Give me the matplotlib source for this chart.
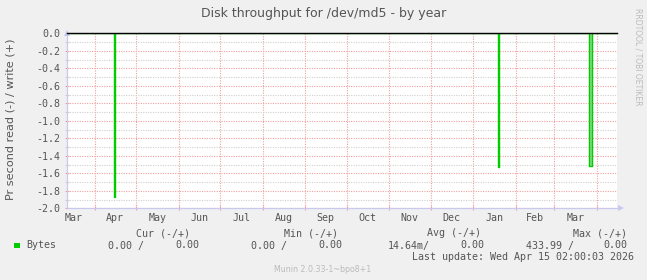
import matplotlib
matplotlib.use("Agg")
import matplotlib.pyplot as plt
import numpy as np
import pandas as pd

# ---- data ----
title = "Disk throughput for /dev/md5 - by year"
ylabel = "Pr second read (-) / write (+)"
range_start = "2025-03-12 00:00"
range_end = "2026-04-15 02:00"
spike_dates = ["2025-04-15", "2026-01-19", "2026-03-26", "2026-03-27"]
spike_read = [1.87, 1.53, 1.52, 1.52]          # read, drawn negative
month_labels = ["Mar", "Apr", "May", "Jun", "Jul", "Aug", "Sep", "Oct",
                "Nov", "Dec", "Jan", "Feb", "Mar"]
ytick_values = [0.0, -0.2, -0.4, -0.6, -0.8, -1.0, -1.2, -1.4, -1.6, -1.8, -2.0]
legend_headers = ["Cur (-/+)", "Min (-/+)", "Avg (-/+)", "Max (-/+)"]
legend_name = "Bytes"
legend_read = ["0.00 /", "0.00 /", "14.64m/", "433.99 /"]
legend_write = ["0.00", "0.00", "0.00", "0.00"]
last_update = "Last update: Wed Apr 15 02:00:03 2026"
footer = "Munin 2.0.33-1~bpo8+1"
side_text = "RRDTOOL / TOBI OETIKER"

# build daily series from the spike arrays
days = pd.date_range("2025-03-11", "2026-04-16", freq="D")
read = pd.Series(0.0, index=days)
for d, v in zip(spike_dates, spike_read):
    read[pd.Timestamp(d)] = -v

W, H = 647, 280
fig = plt.figure(figsize=(W / 100, H / 100), dpi=100, facecolor="#F0F0F0")
ax = fig.add_axes([67 / W, 1 - 208.3 / H, (616.5 - 67) / W, (208.3 - 33.3) / H])
ax.set_facecolor("white")

MONO = "DejaVu Sans Mono"
txtc = "#555555"
FS = 7.2

ax.set_xlim(pd.Timestamp(range_start), pd.Timestamp(range_end))
ax.set_ylim(-2.0, 0.0)

# month grid (major ticks at month starts), labels at mid-month (minor)
month_starts = pd.date_range("2025-03-01", "2026-05-01", freq="MS")
mids = [month_starts[i] + (month_starts[i + 1] - month_starts[i]) / 2
        for i in range(len(month_labels))]
ax.set_xticks(month_starts[1:-1])
ax.set_xticklabels([])
ax.set_xticks(mids, minor=True)
ax.set_xticklabels(month_labels, minor=True, fontfamily=MONO, fontsize=FS, color=txtc)
ax.tick_params(axis="x", which="minor", length=0, pad=3.5)
ax.tick_params(axis="x", which="major", length=3, direction="inout", color="#F0A0A0", width=0.8)
ax.set_xlim(pd.Timestamp(range_start), pd.Timestamp(range_end))

ax.set_yticks(ytick_values)
ax.set_yticklabels([f"{v:.1f}" for v in ytick_values], fontfamily=MONO, fontsize=FS, color=txtc)
ax.set_yticks(np.arange(-1.9, 0.0, 0.2), minor=True)
ax.tick_params(axis="y", which="major", length=3, direction="inout", color="#F0A0A0", width=0.8, pad=3)
ax.tick_params(axis="y", which="minor", length=3, direction="inout", color="#D0D0D0", width=0.8)

ax.grid(True, which="major", axis="both", color="#F0A0A0", linestyle=(0, (1, 1.2)), linewidth=0.8)
ax.grid(True, which="minor", axis="y", color="#D0D0D0", linestyle=(0, (1, 1.2)), linewidth=0.8)
ax.set_axisbelow(True)

for s in ["top", "right"]:
    ax.spines[s].set_visible(False)
for s in ["left", "bottom"]:
    ax.spines[s].set_color("#C8C8F0")
    ax.spines[s].set_linewidth(0.9)

# arrows on axes
ax.plot([0], [1.0], marker="^", markersize=4.5, color="#C8C8F0", transform=ax.transAxes,
        clip_on=False, markeredgewidth=0)
ax.plot([1.009], [0], marker=">", markersize=4.5, color="#C8C8F0", transform=ax.transAxes,
        clip_on=False, markeredgewidth=0)

# data
ax.fill_between(read.index, read.values, 0, step="post", color="#80E080", linewidth=0, zorder=2.5)
ax.plot(read.index, read.values, drawstyle="steps-post", color="#00CC00", linewidth=1.0, zorder=3)
ax.axhline(0, color="black", linewidth=1.0, clip_on=False, zorder=4)

# y label
fig.text(10.5 / W, 1 - 119 / H, ylabel, ha="center", va="center", rotation=90,
         fontsize=8.1, color=txtc)
# title
fig.text(323.5 / W, 1 - 14 / H, title, ha="center", va="center", fontsize=9.0, color=txtc)
# side text
fig.text(638 / W, 1 - 57 / H, side_text, ha="center", va="center", rotation=270,
         fontsize=5.5, color="#BBBBBB")

# legend block
hdr_x = [163.3, 311, 454, 600]
for x, h in zip(hdr_x, legend_headers):
    fig.text(x / W, 1 - 233 / H, h, ha="center", va="center", fontfamily=MONO, fontsize=FS, color=txtc)
fig.patches.append(plt.Rectangle((14 / W, 1 - 248 / H), 6 / W, 5.5 / H, transform=fig.transFigure,
                                 facecolor="#00CC00", edgecolor="none"))
fig.text(26.5 / W, 1 - 245.5 / H, legend_name, ha="left", va="center", fontfamily=MONO, fontsize=FS, color=txtc)
read_right = [143.5, 286.8, 429.8, 573.5]
write_right = [199.8, 342.8, 484.2, 627.5]
for x, v in zip(read_right, legend_read):
    fig.text(x / W, 1 - 245.5 / H, v, ha="right", va="center", fontfamily=MONO, fontsize=FS, color=txtc)
for x, v in zip(write_right, legend_write):
    fig.text(x / W, 1 - 245.5 / H, v, ha="right", va="center", fontfamily=MONO, fontsize=FS, color=txtc)
fig.text(634 / W, 1 - 257.5 / H, last_update, ha="right", va="center", fontfamily=MONO, fontsize=FS, color=txtc)
fig.text(323 / W, 1 - 269 / H, footer, ha="center", va="center", fontsize=5.7, color="#BBBBBB")

fig.savefig("out.png", dpi=100, facecolor=fig.get_facecolor())
